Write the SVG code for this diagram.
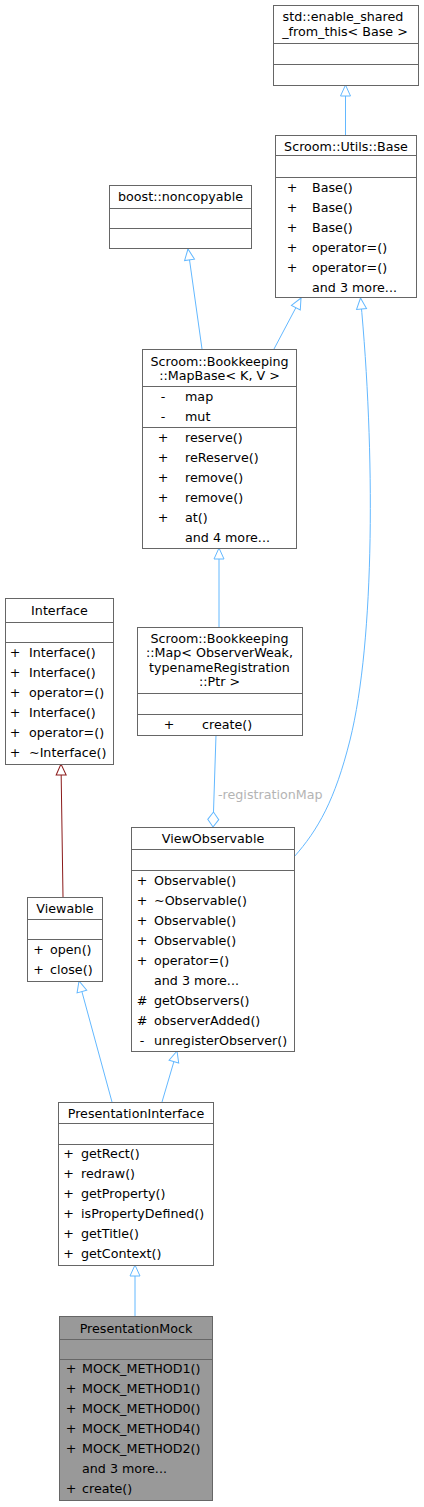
<svg xmlns="http://www.w3.org/2000/svg" width="424" height="1507" viewBox="0 0 424 1507">
<style>
text{font-family:"DejaVu Sans",sans-serif;font-size:12.7px;fill:#000}
.box{fill:#fff;stroke:#666;stroke-width:1}
.mock{fill:#999;stroke:#666;stroke-width:1}
.sep{stroke:#666;stroke-width:1}
.t{text-anchor:middle}
.s{text-anchor:middle}
.e{fill:none;stroke:#63b8ff;stroke-width:1}
.r{fill:none;stroke:#8b1a1a;stroke-width:1}
.lbl{fill:#b4b4b4}
</style>
<defs>
<marker id="inh" viewBox="-13 -7 14 14" refX="0" refY="0" markerWidth="14" markerHeight="14" markerUnits="userSpaceOnUse" orient="auto">
<path d="M0,0 L-11,-5 L-11,5 Z" fill="#fff" stroke="#63b8ff" stroke-width="1"/>
</marker>
<marker id="inhR" viewBox="-13 -7 14 14" refX="0" refY="0" markerWidth="14" markerHeight="14" markerUnits="userSpaceOnUse" orient="auto">
<path d="M0,0 L-11,-5 L-11,5 Z" fill="#fff" stroke="#8b1a1a" stroke-width="1"/>
</marker>
<marker id="dia" viewBox="-17 -7 18 14" refX="0" refY="0" markerWidth="18" markerHeight="14" markerUnits="userSpaceOnUse" orient="auto">
<path d="M0,0 L-7.5,-5.5 L-15,0 L-7.5,5.5 Z" fill="#fff" stroke="#63b8ff" stroke-width="1"/>
</marker>
</defs>

<g id="connectors">
<path class="e" d="M345.5,135 L345.5,85" marker-end="url(#inh)"/>
<path class="e" d="M202,349 L188,249" marker-end="url(#inh)"/>
<path class="e" d="M274,349 L301,298" marker-end="url(#inh)"/>
<path class="e" d="M219,627 L219,548" marker-end="url(#inh)"/>
<path class="e" d="M216,735 L213,827" marker-end="url(#dia)"/>
<text class="lbl" x="218" y="799">-registrationMap</text>
<path class="e" d="M294,857 C318,830 335,800 350,740 C375,640 375,450 360.5,298" marker-end="url(#inh)"/>
<path class="r" d="M63,897 L61,764" marker-end="url(#inhR)"/>
<path class="e" d="M112,1102 L79,981" marker-end="url(#inh)"/>
<path class="e" d="M162,1102 L177,1051" marker-end="url(#inh)"/>
<path class="e" d="M135,1316 L135,1265" marker-end="url(#inh)"/>
</g>

<g id="enable_shared">
<rect class="box" x="273.5" y="5.5" width="145" height="80"/>
<line class="sep" x1="273.5" y1="43.5" x2="418.5" y2="43.5"/>
<line class="sep" x1="273.5" y1="64.5" x2="418.5" y2="64.5"/>
<text class="t" x="343" y="21">std::enable_shared</text>
<text class="t" x="345" y="35.5">_from_this&lt; Base &gt;</text>
</g>

<g id="utils_base">
<rect class="box" x="275.5" y="135.5" width="141" height="162"/>
<line class="sep" x1="275.5" y1="155.5" x2="416.5" y2="155.5"/>
<line class="sep" x1="275.5" y1="177.5" x2="416.5" y2="177.5"/>
<text class="t" x="346" y="150.5">Scroom::Utils::Base</text>
<text class="s" x="292" y="191.5">+</text><text x="312" y="191.5">Base()</text>
<text class="s" x="292" y="211.5">+</text><text x="312" y="211.5">Base()</text>
<text class="s" x="292" y="231.5">+</text><text x="312" y="231.5">Base()</text>
<text class="s" x="292" y="251.5">+</text><text x="312" y="251.5">operator=()</text>
<text class="s" x="292" y="271.5">+</text><text x="312" y="271.5">operator=()</text>
<text x="312" y="291.5">and 3 more...</text>
</g>

<g id="noncopyable">
<rect class="box" x="109.5" y="185.5" width="142" height="63"/>
<line class="sep" x1="109.5" y1="208.5" x2="251.5" y2="208.5"/>
<line class="sep" x1="109.5" y1="228.5" x2="251.5" y2="228.5"/>
<text class="t" x="180.5" y="201">boost::noncopyable</text>
</g>

<g id="mapbase">
<rect class="box" x="142.5" y="349.5" width="154" height="199"/>
<line class="sep" x1="142.5" y1="386.5" x2="296.5" y2="386.5"/>
<line class="sep" x1="142.5" y1="427.5" x2="296.5" y2="427.5"/>
<text class="t" x="219.5" y="365.5">Scroom::Bookkeeping</text>
<text class="t" x="219.5" y="380">::MapBase&lt; K, V &gt;</text>
<text class="s" x="163" y="400.5">-</text><text x="185" y="400.5">map</text>
<text class="s" x="163" y="420.5">-</text><text x="185" y="420.5">mut</text>
<text class="s" x="163" y="441.5">+</text><text x="185" y="441.5">reserve()</text>
<text class="s" x="163" y="461.5">+</text><text x="185" y="461.5">reReserve()</text>
<text class="s" x="163" y="481.5">+</text><text x="185" y="481.5">remove()</text>
<text class="s" x="163" y="501.5">+</text><text x="185" y="501.5">remove()</text>
<text class="s" x="163" y="521.5">+</text><text x="185" y="521.5">at()</text>
<text x="185" y="541.5">and 4 more...</text>
</g>

<g id="interface">
<rect class="box" x="5.5" y="598.5" width="108" height="166"/>
<line class="sep" x1="5.5" y1="622.5" x2="113.5" y2="622.5"/>
<line class="sep" x1="5.5" y1="642.5" x2="113.5" y2="642.5"/>
<text class="t" x="59.5" y="615">Interface</text>
<text class="s" x="15" y="656.5">+</text><text x="29" y="656.5">Interface()</text>
<text class="s" x="15" y="676.5">+</text><text x="29" y="676.5">Interface()</text>
<text class="s" x="15" y="696.5">+</text><text x="29" y="696.5">operator=()</text>
<text class="s" x="15" y="716.5">+</text><text x="29" y="716.5">Interface()</text>
<text class="s" x="15" y="736.5">+</text><text x="29" y="736.5">operator=()</text>
<text class="s" x="15" y="756.5">+</text><text x="29" y="756.5">~Interface()</text>
</g>

<g id="map">
<rect class="box" x="137.5" y="627.5" width="165" height="108"/>
<line class="sep" x1="137.5" y1="693.5" x2="302.5" y2="693.5"/>
<line class="sep" x1="137.5" y1="714.5" x2="302.5" y2="714.5"/>
<text class="t" x="219.5" y="642.5">Scroom::Bookkeeping</text>
<text class="t" x="219.5" y="657">::Map&lt; ObserverWeak,</text>
<text class="t" x="219.5" y="671.5">typenameRegistration</text>
<text class="t" x="219.5" y="686">::Ptr &gt;</text>
<text class="s" x="169" y="728.5">+</text><text x="202" y="728.5">create()</text>
</g>

<g id="viewobservable">
<rect class="box" x="131.5" y="827.5" width="163" height="224"/>
<line class="sep" x1="131.5" y1="849.5" x2="294.5" y2="849.5"/>
<line class="sep" x1="131.5" y1="870.5" x2="294.5" y2="870.5"/>
<text class="t" x="213" y="842.5">ViewObservable</text>
<text class="s" x="142" y="884.5">+</text><text x="154" y="884.5">Observable()</text>
<text class="s" x="142" y="904.5">+</text><text x="154" y="904.5">~Observable()</text>
<text class="s" x="142" y="924.5">+</text><text x="154" y="924.5">Observable()</text>
<text class="s" x="142" y="944.5">+</text><text x="154" y="944.5">Observable()</text>
<text class="s" x="142" y="964.5">+</text><text x="154" y="964.5">operator=()</text>
<text x="154" y="984.5">and 3 more...</text>
<text class="s" x="142" y="1004.5">#</text><text x="154" y="1004.5">getObservers()</text>
<text class="s" x="142" y="1024.5">#</text><text x="154" y="1024.5">observerAdded()</text>
<text class="s" x="142" y="1044.5">-</text><text x="154" y="1044.5">unregisterObserver()</text>
</g>

<g id="viewable">
<rect class="box" x="27.5" y="897.5" width="75" height="84"/>
<line class="sep" x1="27.5" y1="919.5" x2="102.5" y2="919.5"/>
<line class="sep" x1="27.5" y1="939.5" x2="102.5" y2="939.5"/>
<text class="t" x="65" y="912.5">Viewable</text>
<text class="s" x="38.5" y="953.5">+</text><text x="50" y="953.5">open()</text>
<text class="s" x="38.5" y="973.5">+</text><text x="50" y="973.5">close()</text>
</g>

<g id="presentationinterface">
<rect class="box" x="58.5" y="1102.5" width="155" height="163"/>
<line class="sep" x1="58.5" y1="1123.5" x2="213.5" y2="1123.5"/>
<line class="sep" x1="58.5" y1="1144.5" x2="213.5" y2="1144.5"/>
<text class="t" x="136" y="1117.5">PresentationInterface</text>
<text class="s" x="68.5" y="1157.5">+</text><text x="81" y="1157.5">getRect()</text>
<text class="s" x="68.5" y="1177.5">+</text><text x="81" y="1177.5">redraw()</text>
<text class="s" x="68.5" y="1197.5">+</text><text x="81" y="1197.5">getProperty()</text>
<text class="s" x="68.5" y="1217.5">+</text><text x="81" y="1217.5">isPropertyDefined()</text>
<text class="s" x="68.5" y="1237.5">+</text><text x="81" y="1237.5">getTitle()</text>
<text class="s" x="68.5" y="1257.5">+</text><text x="81" y="1257.5">getContext()</text>
</g>

<g id="presentationmock">
<rect class="mock" x="59.5" y="1316.5" width="153" height="184"/>
<line class="sep" x1="59.5" y1="1339.5" x2="212.5" y2="1339.5"/>
<line class="sep" x1="59.5" y1="1359.5" x2="212.5" y2="1359.5"/>
<text class="t" x="136" y="1332.5">PresentationMock</text>
<text class="s" x="71" y="1373">+</text><text x="82" y="1373">MOCK_METHOD1()</text>
<text class="s" x="71" y="1393">+</text><text x="82" y="1393">MOCK_METHOD1()</text>
<text class="s" x="71" y="1413">+</text><text x="82" y="1413">MOCK_METHOD0()</text>
<text class="s" x="71" y="1433">+</text><text x="82" y="1433">MOCK_METHOD4()</text>
<text class="s" x="71" y="1453">+</text><text x="82" y="1453">MOCK_METHOD2()</text>
<text x="82" y="1473">and 3 more...</text>
<text class="s" x="71" y="1493">+</text><text x="82" y="1493">create()</text>
</g>
</svg>
